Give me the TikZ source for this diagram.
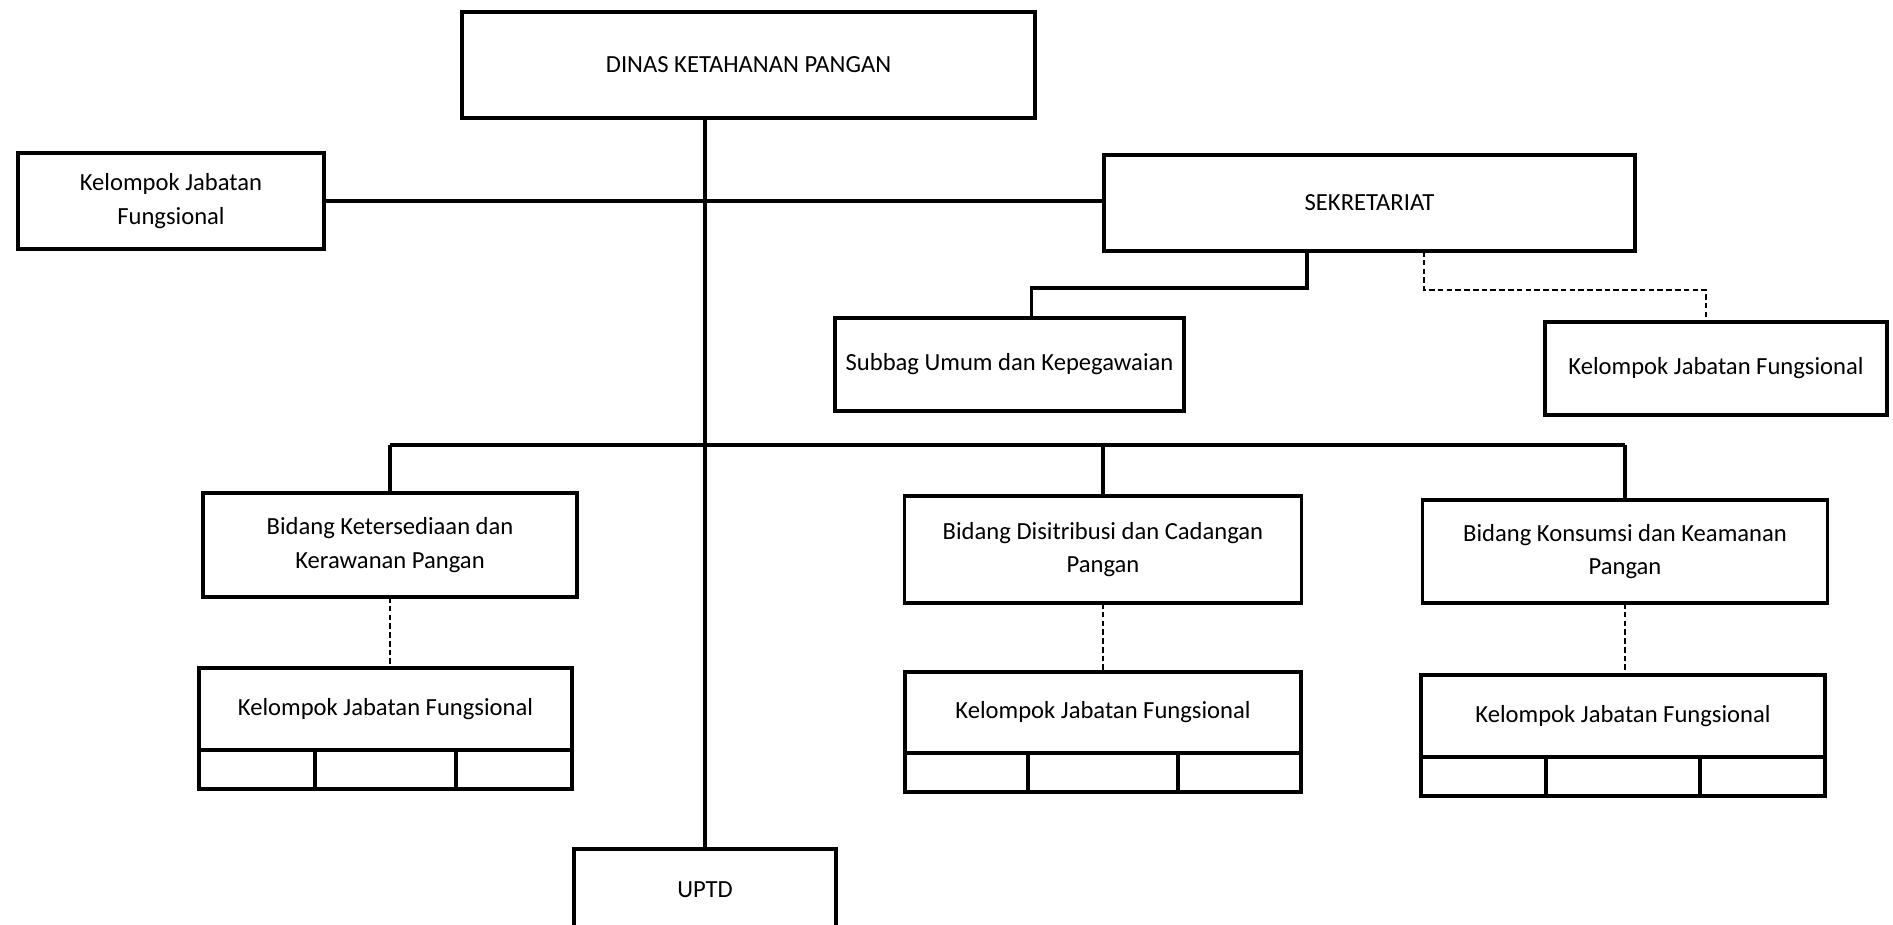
\documentclass[tikz,border=0pt]{standalone}
\usepackage{fontspec}
\setmainfont{Carlito}
\usetikzlibrary{calc}
\tikzset{
  link/.style={draw=black,line width=0.9pt},
  dashlink/.style={draw=black,line width=0.8pt,dash pattern=on 1.6pt off 0.9pt},
  unit/.style={
    draw=black,
    rectangle,
    line width=1.1pt,
    inner sep=1pt,
    outer sep=0pt,
    align=center,
    font=\fontsize{7}{9.6}\selectfont
  },
  cellline/.style={draw=black,line width=1.1pt}
}
\newcommand{\cellrow}[1]{%
  \draw[cellline] (#1.south west) rectangle ($(#1.south east)+(0,-0.39)$);
  \draw[cellline] ($(#1.south west)!0.31!(#1.south east)$) -- ++(0,-0.39);
  \draw[cellline] ($(#1.south west)!0.69!(#1.south east)$) -- ++(0,-0.39);
}

\begin{document}
\begin{tikzpicture}[x=1cm,y=1cm]
  \useasboundingbox (0,0) rectangle (18.93,9.25);
  \fill[white] (0,0) rectangle (18.93,9.25);

  % Head, secretariat and staff
  \node[unit,minimum width=5.73cm,minimum height=1.06cm] (dinas) at (7.485,8.60) {DINAS KETAHANAN PANGAN};
  \node[unit,minimum width=3.06cm,minimum height=0.96cm] (kjfleft) at (1.71,7.24) {Kelompok Jabatan\\Fungsional};
  \node[unit,minimum width=5.31cm,minimum height=0.96cm] (sekre) at (13.695,7.22) {SEKRETARIAT};
  \node[unit,minimum width=3.49cm,minimum height=0.93cm] (subbag) at (10.095,5.605) {Subbag Umum dan Kepegawaian};
  \node[unit,minimum width=3.42cm,minimum height=0.93cm] (kjfsek) at (17.16,5.565) {Kelompok Jabatan Fungsional};

  \draw[link] (kjfleft.east) -- (kjfleft.east -| sekre.west);
  \draw[link] ([xshift=-6.25mm]sekre.south) -- ++(0,-0.37) -| ([xshift=2.2mm]subbag.north);
  \draw[dashlink] ([xshift=5.45mm]sekre.south) -- ++(0,-0.39) -| ([xshift=-1mm]kjfsek.north);

  % Bidang
  \node[unit,minimum width=3.74cm,minimum height=1.04cm] (bida) at (3.90,3.80) {Bidang Ketersediaan dan\\Kerawanan Pangan};
  \node[unit,minimum width=3.97cm,minimum height=1.07cm] (bidb) at (11.03,3.755) {Bidang Disitribusi dan Cadangan\\Pangan};
  \node[unit,minimum width=4.05cm,minimum height=1.03cm] (bidc) at (16.25,3.735) {Bidang Konsumsi dan Keamanan\\Pangan};

  \coordinate (bus) at (0,4.80);
  \draw[link] (bida.north |- bus) -- (bidc.north |- bus);
  \foreach \bid in {bida,bidb,bidc} {
    \draw[link] (\bid.north |- bus) -- (\bid.north);
  }

  % Kelompok Jabatan Fungsional under each Bidang
  \node[unit,minimum width=3.73cm,minimum height=0.82cm] (kjfa) at (3.855,2.16) {Kelompok Jabatan Fungsional};
  \node[unit,minimum width=3.96cm,minimum height=0.81cm] (kjfb) at (11.03,2.125) {Kelompok Jabatan Fungsional};
  \node[unit,minimum width=4.04cm,minimum height=0.82cm] (kjfc) at (16.23,2.09) {Kelompok Jabatan Fungsional};
  \cellrow{kjfa}
  \cellrow{kjfb}
  \cellrow{kjfc}

  \draw[dashlink] (bida.south) -- (bida.south |- kjfa.north);
  \draw[dashlink] (bidb.south) -- (bidb.south |- kjfb.north);
  \draw[dashlink] (bidc.south) -- (bidc.south |- kjfc.north);

  % UPTD
  \node[unit,minimum width=2.62cm,minimum height=0.82cm] (uptd) at (7.05,0.35) {UPTD};
  \draw[link] (uptd.north |- dinas.south) -- (uptd.north);
\end{tikzpicture}
\end{document}
